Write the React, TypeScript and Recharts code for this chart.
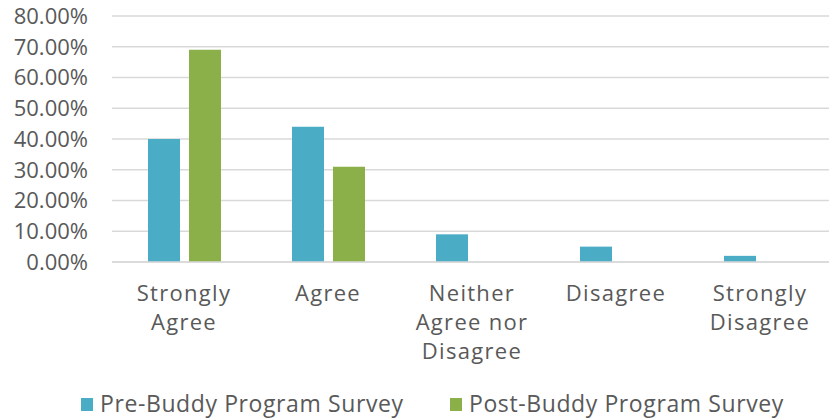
import React from "react";
import { BarChart, Bar, XAxis, YAxis, CartesianGrid, Legend } from "recharts";

const categories = ["Strongly Agree", "Agree", "Neither Agree nor Disagree", "Disagree", "Strongly Disagree"];
const tickLines = [["Strongly", "Agree"], ["Agree"], ["Neither", "Agree nor", "Disagree"], ["Disagree"], ["Strongly", "Disagree"]];
const preValues = [0.40, 0.44, 0.09, 0.05, 0.02];
const postValues = [0.69, 0.31, 0, 0, 0];
const yTicks = [0, 0.1, 0.2, 0.3, 0.4, 0.5, 0.6, 0.7, 0.8];
const seriesNames = ["Pre-Buddy Program Survey", "Post-Buddy Program Survey"];

const data = categories.map((c, i) => ({ name: c, pre: preValues[i], post: postValues[i] }));

const FONT = "'Open Sans', sans-serif";
const TEXT = "#595959";
const BLUE = "#4BACC6";
const GREEN = "#8BB04A";

const XTick = (props: any) => {
  const { x, y, index } = props;
  const lines = tickLines[index] || [];
  return (
    <text x={x} y={y} textAnchor="middle" fill={TEXT} fontSize={22} fontFamily={FONT} letterSpacing={1.3}>
      {lines.map((l, i) => (
        <tspan key={i} x={x} dy={i === 0 ? 31 : 29}>{l}</tspan>
      ))}
    </text>
  );
};

const LegendContent = (props: any) => {
  const colors = [BLUE, GREEN];
  const xs = [81, 450];
  return (
    <svg width={829} height={40} style={{ display: "block" }}>
      {seriesNames.map((n, i) => (
        <g key={n}>
          <rect x={xs[i]} y={19} width={12} height={13} fill={colors[i]} />
          <text x={xs[i] + 19} y={33} fill={TEXT} fontSize={23} fontFamily={FONT} letterSpacing={0.6}>{n}</text>
        </g>
      ))}
    </svg>
  );
};

export default function App() {
  return (
    <div style={{ position: "absolute", left: 0, top: 0, background: "#fff" }}>
      <BarChart
        width={829}
        height={419}
        data={data}
        margin={{ top: 16, right: -3, bottom: 0, left: 0 }}
        barGap={9}
        barCategoryGap={35}
      >
        <CartesianGrid vertical={false} stroke="#D9D9D9" strokeWidth={1.5} />
        <XAxis
          dataKey="name"
          axisLine={{ stroke: "#D9D9D9", strokeWidth: 1.5 }}
          tickLine={false}
          tick={<XTick />}
          interval={0}
          height={117}
        />
        <YAxis
          width={112}
          domain={[0, 0.8]}
          ticks={yTicks}
          interval={0}
          axisLine={false}
          tickLine={false}
          tickSize={0}
          tickMargin={24}
          tickFormatter={(v: number) => (v * 100).toFixed(2) + "%"}
          tick={{ fill: TEXT, fontSize: 22, fontFamily: FONT }}
        />
        <Legend verticalAlign="bottom" height={40} content={<LegendContent />} />
        <Bar dataKey="pre" name={seriesNames[0]} fill={BLUE} barSize={32} isAnimationActive={false} />
        <Bar dataKey="post" name={seriesNames[1]} fill={GREEN} barSize={32} isAnimationActive={false} />
      </BarChart>
    </div>
  );
}
